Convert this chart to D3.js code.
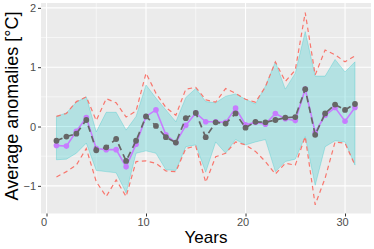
<!DOCTYPE html>
<html><head><meta charset="utf-8">
<script src="https://cdn.jsdelivr.net/npm/d3@7"></script>
<style>body{margin:0;background:#fff}svg{display:block}</style>
</head><body>
<script>
const years = d3.range(1, 32);
const observed = [-0.24,-0.17,-0.12,0.11,-0.40,-0.35,-0.21,-0.58,-0.24,0.17,0.01,-0.18,-0.27,0.14,0.23,-0.18,0.07,0.05,0.22,-0.02,0.08,0.07,0.11,0.15,0.16,0.63,-0.14,0.22,0.37,0.28,0.38];
const meanPred = [-0.32,-0.33,-0.08,0.15,-0.37,-0.39,-0.39,-0.68,-0.30,0.17,0.28,-0.14,-0.27,0.02,0.23,0.08,0.08,0.07,0.31,0.03,0.07,0.04,0.22,0.13,0.10,0.63,-0.10,0.19,0.32,0.09,0.32];
const ribbonUpper = [0.17,0.23,0.41,0.50,-0.09,0.24,0.24,-0.06,0.17,0.70,0.48,0.28,0.08,0.49,0.64,0.42,0.40,0.51,0.55,0.46,0.38,0.68,1.09,0.63,0.90,1.60,0.85,0.85,1.13,0.92,1.09];
const ribbonLower = [-0.56,-0.55,-0.45,-0.28,-0.74,-0.76,-0.78,-1.12,-0.45,-0.41,-0.45,-0.73,-0.74,-0.34,-0.31,-0.77,-0.26,-0.45,-0.22,-0.31,-0.26,-0.22,-0.76,-0.59,-0.55,-0.17,-0.99,-0.34,-0.24,-0.26,-0.65];
const dashUpper = [0.17,0.22,0.42,0.50,0.10,0.47,0.40,0.16,0.26,0.90,0.56,0.32,0.19,0.63,0.66,0.45,0.41,0.64,0.56,0.46,0.41,0.67,1.09,0.76,0.95,1.92,0.87,1.29,1.21,1.09,1.19];
const dashLower = [-0.85,-0.76,-0.65,-0.37,-0.93,-1.18,-0.90,-1.18,-0.59,-0.58,-0.62,-0.75,-0.76,-0.37,-0.33,-0.94,-0.51,-0.45,-0.26,-0.31,-0.42,-0.59,-0.80,-0.62,-0.65,-0.17,-1.32,-0.87,-0.26,-0.28,-0.65];
const xTicks = [0,10,20,30];
const yTicks = [-1,0,1,2];
const xTitle = "Years";
const yTitle = "Average anomalies [°C]";

const W = 374, H = 249;
const P = {l:41, r:371, t:3, b:213.5};
const FONT = "'Liberation Sans', Arial, sans-serif";
const svg = d3.select("body").append("svg").attr("width",W).attr("height",H);
const x = d3.scaleLinear().domain([-0.553, 32.61]).range([P.l, P.r]);
const y = d3.scaleLinear().domain([-1.466, 2.082]).range([P.b, P.t]);

svg.append("rect").attr("x",P.l).attr("y",P.t).attr("width",P.r-P.l).attr("height",P.b-P.t).attr("fill","#EBEBEB");
const g = svg.append("g");
const xMinor = [5,15,25], yMinor = [-0.5,0.5,1.5];
g.selectAll(".xm").data(xMinor).join("line").attr("x1",d=>x(d)).attr("x2",d=>x(d)).attr("y1",P.t).attr("y2",P.b).attr("stroke","#fff").attr("stroke-width",0.55);
g.selectAll(".ym").data(yMinor).join("line").attr("y1",d=>y(d)).attr("y2",d=>y(d)).attr("x1",P.l).attr("x2",P.r).attr("stroke","#fff").attr("stroke-width",0.55);
g.selectAll(".xM").data(xTicks).join("line").attr("x1",d=>x(d)).attr("x2",d=>x(d)).attr("y1",P.t).attr("y2",P.b).attr("stroke","#fff").attr("stroke-width",1.1);
g.selectAll(".yM").data(yTicks).join("line").attr("y1",d=>y(d)).attr("y2",d=>y(d)).attr("x1",P.l).attr("x2",P.r).attr("stroke","#fff").attr("stroke-width",1.1);

const idx = years.map((d,i)=>i);
const area = d3.area().x(i=>x(years[i])).y0(i=>y(ribbonLower[i])).y1(i=>y(ribbonUpper[i]));
g.append("path").datum(idx).attr("d",area).attr("fill","#00BFC4").attr("fill-opacity",0.24)
  .attr("stroke","#00BFC4").attr("stroke-opacity",0.25).attr("stroke-width",1);

const lineOf = arr => d3.line().x(i=>x(years[i])).y(i=>y(arr[i]));
[dashUpper, dashLower].forEach(arr=>{
  g.append("path").datum(idx).attr("d",lineOf(arr)).attr("fill","none").attr("stroke","#F8766D")
   .attr("stroke-width",1.2).attr("stroke-dasharray","4.5,3.5");
});
g.append("path").datum(idx).attr("d",lineOf(meanPred)).attr("fill","none").attr("stroke","#C77CFF").attr("stroke-width",1.6);
g.selectAll(".mp").data(idx).join("circle").attr("cx",i=>x(years[i])).attr("cy",i=>y(meanPred[i])).attr("r",2.8).attr("fill","#C77CFF");
g.append("path").datum(idx).attr("d",lineOf(observed)).attr("fill","none").attr("stroke","#666666").attr("stroke-width",1.7).attr("stroke-dasharray","6.5,4.5");
g.selectAll(".op").data(idx).join("circle").attr("cx",i=>x(years[i])).attr("cy",i=>y(observed[i])).attr("r",2.9).attr("fill","#666666");

const xAxis = d3.axisBottom(x).tickValues(xTicks).tickSize(3).tickPadding(2).tickFormat(d3.format("d"));
const xa = svg.append("g").attr("transform",`translate(0,${P.b})`).call(xAxis);
const yAxis = d3.axisLeft(y).tickValues(yTicks).tickSize(3).tickPadding(2).tickFormat(d=>d<0?"\u2212"+Math.abs(d):d);
const ya = svg.append("g").attr("transform",`translate(${P.l},0)`).call(yAxis);
[xa,ya].forEach(a=>{
  a.select(".domain").remove();
  a.selectAll(".tick line").attr("stroke","#333333").attr("stroke-width",1);
  a.selectAll(".tick text").attr("fill","#4D4D4D").style("font-family",FONT).style("font-size","11px");
});
xa.selectAll(".tick text").attr("dx",-3);
svg.append("text").attr("x",(P.l+P.r)/2).attr("y",243).attr("text-anchor","middle")
  .style("font-family",FONT).style("font-size","17px").attr("fill","#000").text(xTitle);
svg.append("text").attr("transform",`translate(18,106) rotate(-90)`).attr("text-anchor","middle")
  .style("font-family",FONT).style("font-size","18px").attr("fill","#000").text(yTitle);
</script>
</body></html>
